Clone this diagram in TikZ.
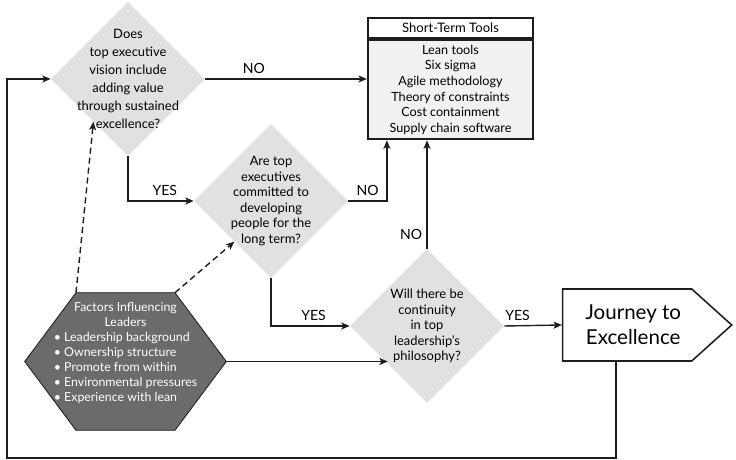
\documentclass[tikz,border=0pt]{standalone}
\usepackage{fontspec}
\setmainfont{Lato}
\usepackage{tikz}
\usetikzlibrary{arrows.meta,calc,positioning,shapes.geometric,shapes.symbols}
\definecolor{qgray}{HTML}{E1E1E1}
\definecolor{hexgray}{HTML}{6B6B6B}
\definecolor{boxgray}{HTML}{F1F1F1}
\definecolor{inkline}{HTML}{1E1E1E}

\begin{document}
\begin{tikzpicture}[
  flow/.style={draw=inkline,line width=1pt,-{Stealth[length=6pt,width=5pt,inset=1.5pt]}},
  infl/.style={flow,dash pattern=on 4.3pt off 2.8pt},
  decision/.style={diamond,fill=qgray,minimum width=3.85cm,minimum height=3.85cm,inner sep=0pt},
  qtext/.style={align=center,font=\fontsize{9.2}{11.1}\selectfont,inner sep=0pt},
  answer/.style={font=\fontsize{10}{12}\selectfont,inner sep=3pt},
  toolhead/.style={draw=inkline,line width=1.6pt,fill=white,minimum width=4.125cm,minimum height=0.5cm,inner sep=0pt,font=\fontsize{9.3}{11}\selectfont},
  toolbody/.style={draw=inkline,line width=1.6pt,fill=boxgray,minimum width=4.125cm,minimum height=2.475cm,inner sep=0pt,align=center,font=\fontsize{9}{11.1}\selectfont},
  hexframe/.style={minimum width=5.025cm,minimum height=3.425cm,inner sep=0pt},
  hexshape/.style={draw=inkline,line width=0.6pt,fill=hexgray},
  hextext/.style={text=white,font=\fontsize{8.8}{10.7}\selectfont,inner sep=0pt},
  goal/.style={signal,signal to=east,signal pointer angle=84,draw=inkline,line width=1.1pt,fill=white,minimum width=4.225cm,minimum height=1.8cm,inner sep=0pt,align=center,font=\fontsize{14.6}{17.7}\selectfont}
]
  \useasboundingbox (0,0) rectangle (18.4,11.5);
  \node[decision,label={[qtext,font=\fontsize{9.2}{12.7}\selectfont]center:{Does\\top executive\\vision include\\adding value\\through sustained\\excellence?}}] (d1) at (3.2,9.525) {};
  \node[decision,label={[qtext]center:{Are top\\executives\\committed to\\developing\\people for the\\long term?}}] (d2) at (6.775,6.475) {};
  \node[decision,label={[qtext]center:{Will there be\\continuity\\in top\\leadership’s\\philosophy?}}] (d3) at (10.675,3.35) {};
  \node[toolhead] (stthead) at (11.2625,10.8) {Short-Term Tools};
  \node[toolbody,below=0pt of stthead] (sttbody) {Lean tools\\Six sigma\\Agile methodology\\Theory of constraints\\Cost containment\\Supply chain software};
  \node[hexframe] (hex) at (3.1375,2.4625) {};
  \filldraw[hexshape] ([xshift=-1.2375cm]hex.north) -- ([xshift=1.2375cm]hex.north) -- (hex.east)
    -- ([xshift=1.2375cm]hex.south) -- ([xshift=-1.2375cm]hex.south) -- (hex.west) -- cycle;
  \node[hextext] (hexlabel) at ([yshift=0.2cm]hex.center) {\begin{tabular}{@{}l@{}}\multicolumn{1}{c}{Factors Influencing}\\\multicolumn{1}{c}{Leaders}\\\textbullet\ Leadership background\\\textbullet\ Ownership structure\\\textbullet\ Promote from within\\\textbullet\ Environmental pressures\\\textbullet\ Experience with lean\end{tabular}};
  \node[goal] (jte) at (15.68,3.375) {\hspace*{0.3cm}Journey to\\\hspace*{0.3cm}Excellence};
  \coordinate (loopdn) at (15.4,0.05);
  \coordinate (loopup) at (0.175,0.05);
  \draw[flow] (loopdn |- jte.south) -- (loopdn) -- (loopup) |- (d1.west);
  \draw[flow] (d1.east) -- (d1.east -| sttbody.west) node[answer,pos=0.3,above] (no1) {NO};
  \draw[flow] (d1.south) |- (d2.west) node[answer,pos=0.78,above] (yes1) {YES};
  \draw[flow] (d2.east) -| ([xshift=0.5cm]sttbody.south west) node[answer,pos=0.25,above] (no2) {NO};
  \draw[flow] (d2.south) |- (d3.west) node[answer,pos=0.77,above] (yes2) {YES};
  \draw[flow] (d3.north) -- (d3.north |- sttbody.south) node[answer,pos=0.13,left] (no3) {NO};
  \draw[flow] (d3.east) -- (jte.west) node[answer,pos=0.23,above] (yes3) {YES};
  \draw[flow] (hex.east) -- (hex.east -| d3.224);
  \draw[infl] ([xshift=-1.2375cm]hex.north) -- (d1.231);
  \draw[infl] ([xshift=1.2375cm]hex.north) -- (d2.228);
\end{tikzpicture}
\end{document}
